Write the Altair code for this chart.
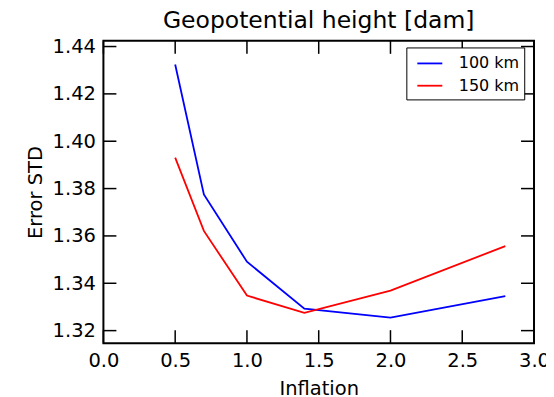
import altair as alt
import pandas as pd

# ---- data ----
inflation = [0.5, 0.7, 1.0, 1.4, 2.0, 2.8]
err_100km = [1.4324, 1.3775, 1.3491, 1.3293, 1.3255, 1.3346]
err_150km = [1.3931, 1.3621, 1.3348, 1.3275, 1.3369, 1.3557]
series_names = ["100 km", "150 km"]
series_colors = ["#0000ff", "#ff0000"]
x_ticks = [0.0, 0.5, 1.0, 1.5, 2.0, 2.5, 3.0]
y_ticks = [1.32, 1.34, 1.36, 1.38, 1.40, 1.42, 1.44]
x_domain = [0.0, 3.0]
y_domain = [1.3147, 1.4424]

W, H = 431, 302.6
FONT = "DejaVu Sans"
TICK = 13

rows = []
for name, vals in zip(series_names, [err_100km, err_150km]):
    for x, v in zip(inflation, vals):
        rows.append({"Inflation": x, "Error": v, "series": name})
df = pd.DataFrame(rows)
xt = pd.DataFrame({"Inflation": x_ticks})
yt = pd.DataFrame({"Error": y_ticks})

xs = alt.Scale(domain=x_domain, nice=False, zero=False)
ys = alt.Scale(domain=y_domain, nice=False, zero=False)

x_axis = alt.Axis(values=x_ticks, format=".1f", title="Inflation",
                  ticks=False, tickSize=0, domain=False, grid=False,
                  labelFlush=False, labelOverlap=False,
                  labelPadding=8, labelFontSize=19.5, titleFontSize=19.5,
                  labelFont=FONT, titleFont=FONT, titleFontWeight="normal",
                  labelColor="black", titleColor="black",
                  titleBaseline="alphabetic", titleY=51.7, titleX=W / 2)
y_axis = alt.Axis(values=y_ticks, format=".2f", title="Error STD",
                  ticks=False, tickSize=0, domain=False, grid=False,
                  labelFlush=False, labelOverlap=False,
                  labelPadding=8, labelFontSize=19.5, titleFontSize=19.5,
                  labelFont=FONT, titleFont=FONT, titleFontWeight="normal",
                  labelColor="black", titleColor="black",
                  titleBaseline="alphabetic", titleX=-61.8, titleY=H / 2)

lines = alt.Chart(df).mark_line(strokeWidth=1.8).encode(
    x=alt.X("Inflation:Q", scale=xs, axis=x_axis),
    y=alt.Y("Error:Q", scale=ys, axis=y_axis),
    color=alt.Color("series:N",
                    scale=alt.Scale(domain=series_names, range=series_colors),
                    legend=alt.Legend(title=None, orient="none", legendX=303.2, legendY=6.6,
                                      strokeColor="black", fillColor="white",
                                      padding=5, symbolType="M-1.25,0H1.25", symbolSize=400,
                                      symbolOffset=7.5,
                                      symbolStrokeWidth=1.8, labelOffset=18,
                                      labelFontSize=16, labelFont=FONT, labelColor="black",
                                      rowPadding=3.3)),
)

tick_bottom = alt.Chart(xt).mark_rule(color="black", strokeWidth=1.5).encode(
    x=alt.X("Inflation:Q", scale=xs, axis=x_axis), y=alt.value(H), y2=alt.value(H - TICK))
tick_top = alt.Chart(xt).mark_rule(color="black", strokeWidth=1.5).encode(
    x=alt.X("Inflation:Q", scale=xs, axis=x_axis), y=alt.value(0), y2=alt.value(TICK))
tick_left = alt.Chart(yt).mark_rule(color="black", strokeWidth=1.5).encode(
    y=alt.Y("Error:Q", scale=ys, axis=y_axis), x=alt.value(0), x2=alt.value(TICK))
tick_right = alt.Chart(yt).mark_rule(color="black", strokeWidth=1.5).encode(
    y=alt.Y("Error:Q", scale=ys, axis=y_axis), x=alt.value(W), x2=alt.value(W - TICK))

chart = alt.layer(lines, tick_bottom, tick_top, tick_left, tick_right).properties(
    width=W, height=H,
    title=alt.TitleParams("Geopotential height [dam]", fontSize=23.5, font=FONT,
                          fontWeight="normal", color="black", anchor="middle",
                          frame="group", offset=4),
    autosize=alt.AutoSizeParams(type="none"),
    padding={"left": 95.5, "top": 32.7, "right": 12, "bottom": 53},
).configure(background="white").configure_view(stroke="black", strokeWidth=2)

chart.save("out.html", embed_options={"renderer": "svg", "actions": False})
